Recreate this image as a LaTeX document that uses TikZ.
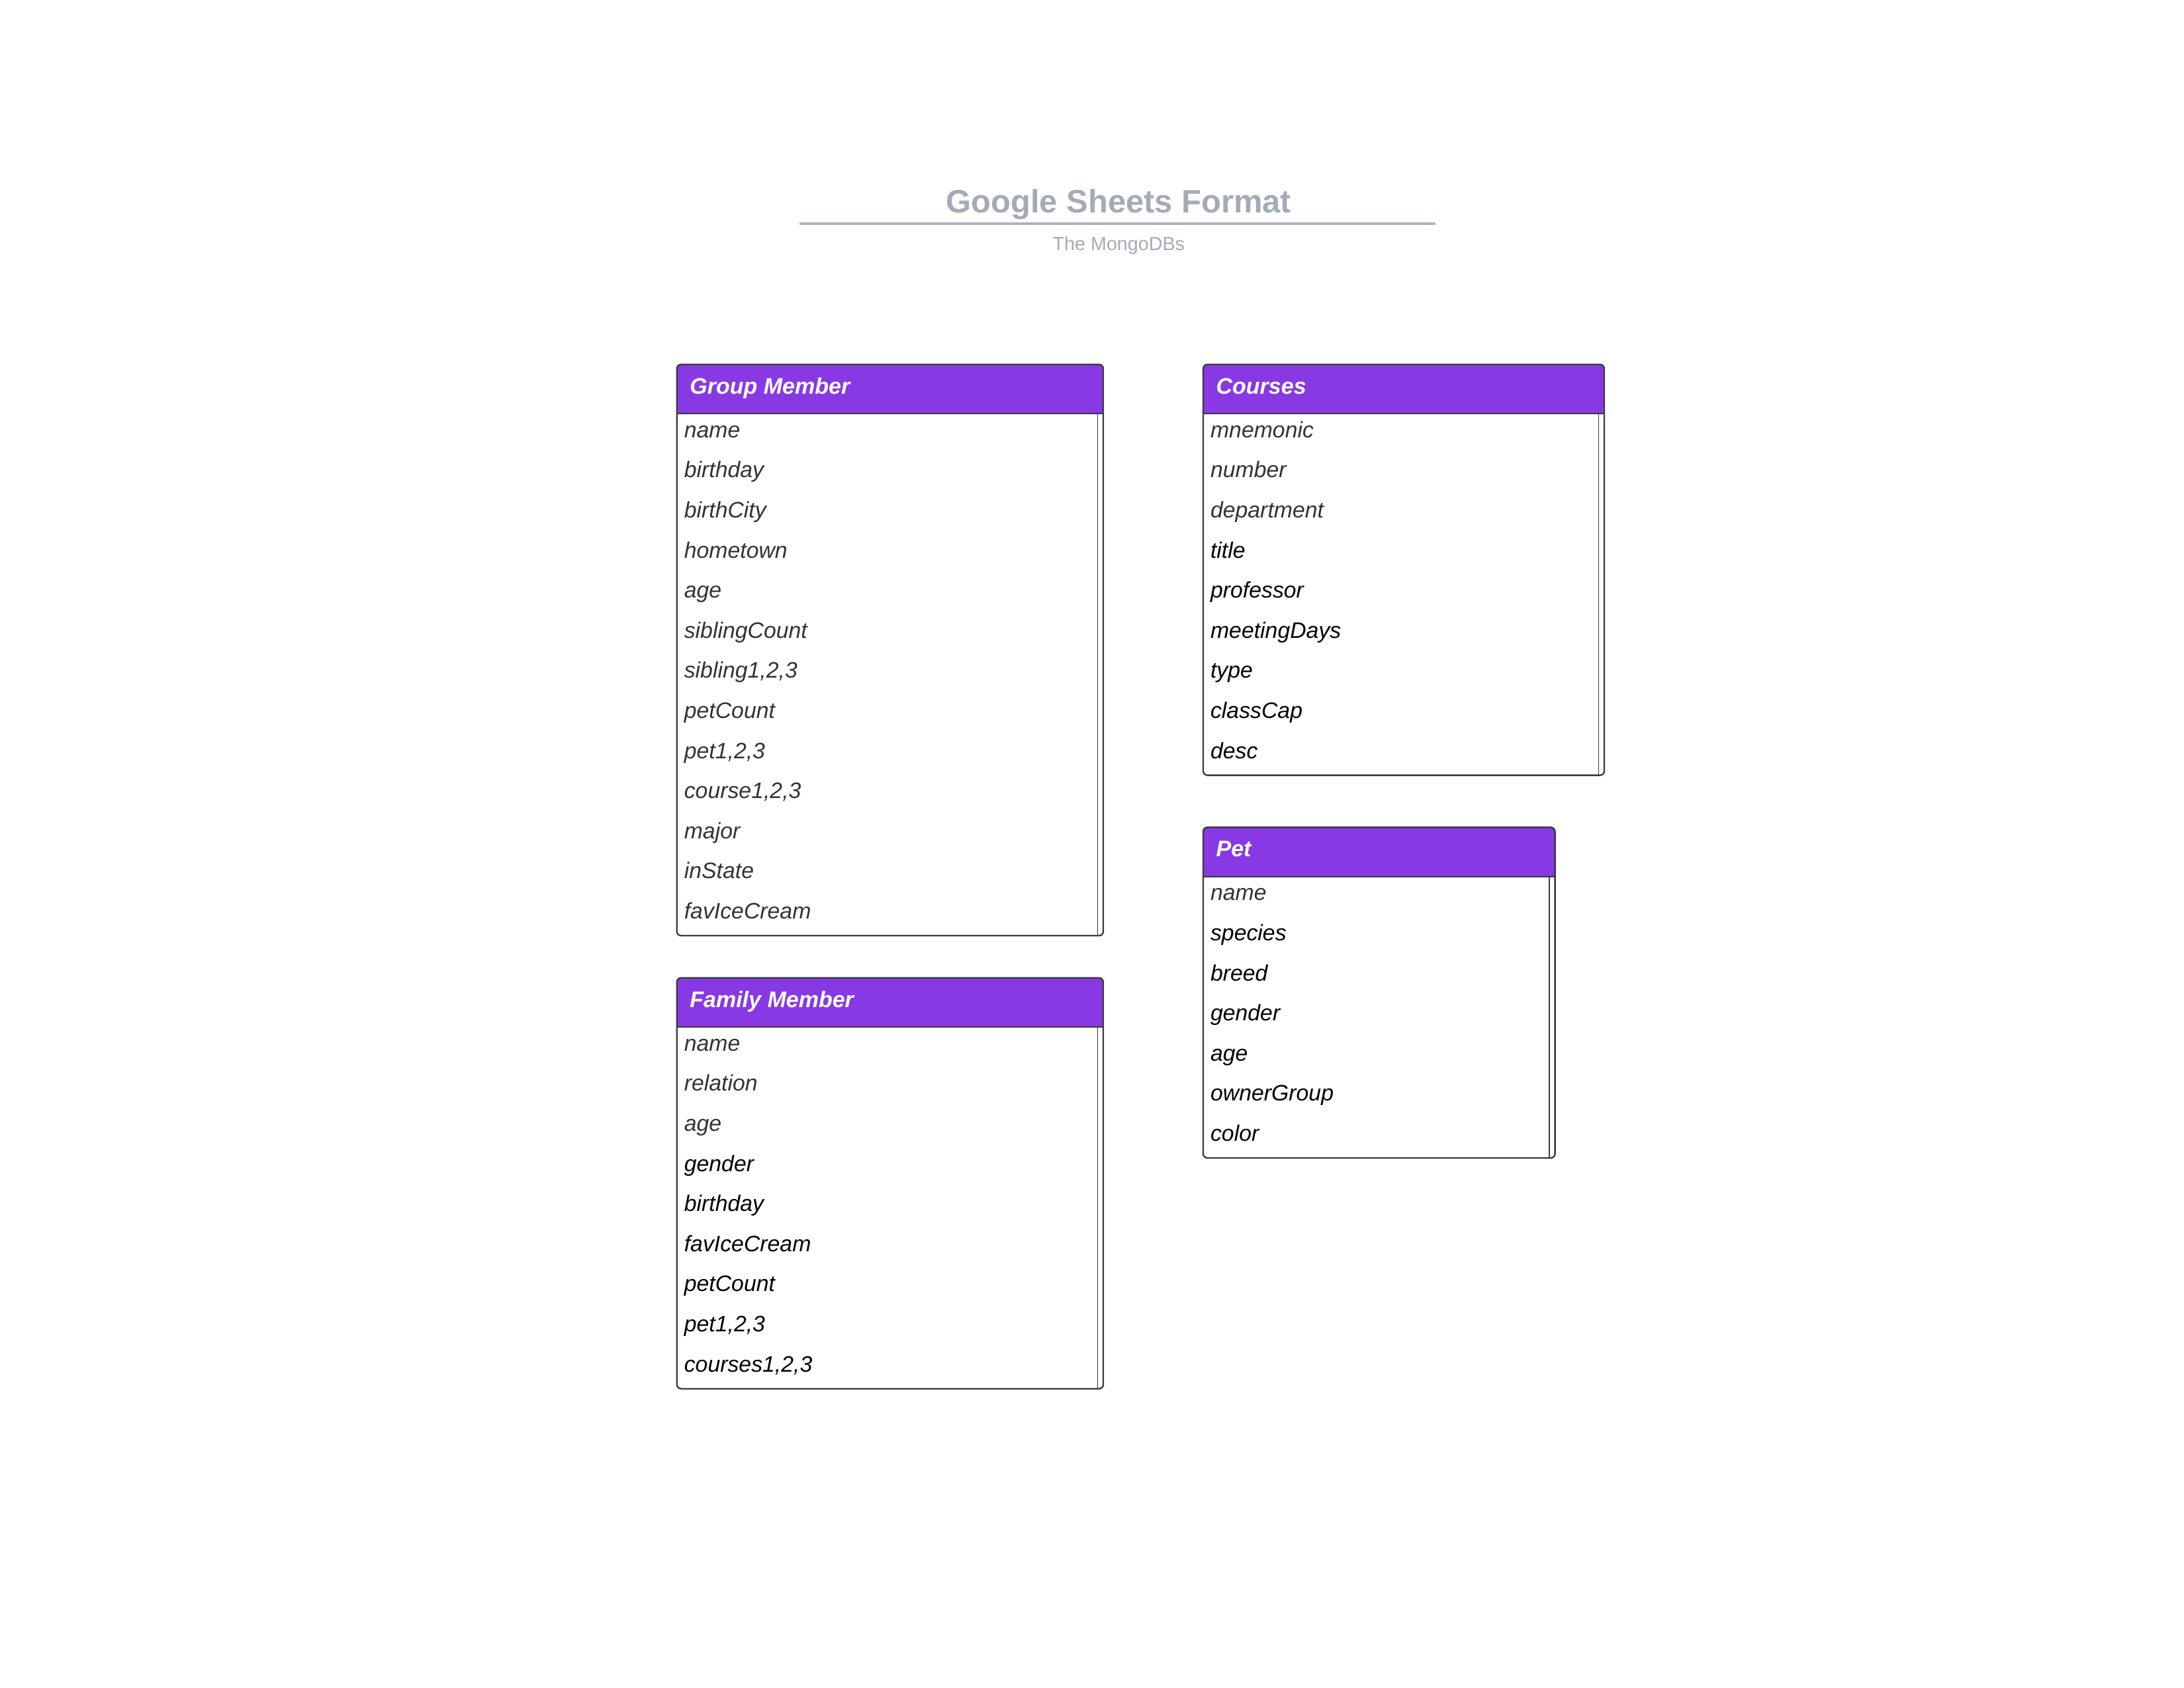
\documentclass[tikz,border=0pt]{standalone}
\usepackage{fontspec}
\setmainfont{Liberation Sans}
\definecolor{hdrpurple}{HTML}{8839E3}
\definecolor{edgegray}{HTML}{3A3A3A}
\definecolor{titlegray}{HTML}{A5ABB5}
\definecolor{linegray}{HTML}{ADB3C2}
\definecolor{itemgray}{HTML}{333333}
\definecolor{itemblack}{HTML}{000000}
\tikzset{
  edge/.style={draw=edgegray, line width=1.1pt},
  hdrfill/.style={fill=hdrpurple},
  hdrtext/.style={text=white, font=\fontsize{16}{19}\selectfont\bfseries\itshape, inner sep=0pt},
  item/.style={font=\fontsize{15.9}{18}\selectfont\itshape, inner sep=0pt, anchor=base west},
  titletext/.style={text=titlegray, font=\fontsize{23}{27}\selectfont\bfseries, inner sep=0pt, anchor=base},
  subtext/.style={text=titlegray, font=\fontsize{13.5}{16}\selectfont, inner sep=0pt, anchor=base},
}
\newcommand\erbox[7]{% id, x1, x2, top, bottom, title, items
  \fill[hdrfill, rounded corners=3pt] (#2,#4) rectangle (#3,#4+35);
  \fill[hdrfill] (#2,#4+10) rectangle (#3,#4+35);
  \draw[edge] (#2,#4+35) -- (#3,#4+35);
  \draw[edge, line width=0.6pt] (#3-4,#4+35) -- (#3-4,#5);
  \draw[edge, rounded corners=3pt] (#2,#4) rectangle (#3,#5);
  \node[hdrtext, anchor=base west] (#1) at (#2+9,#4+21) {#6};
  \foreach \t/\c [count=\i from 0] in {#7}
    \node[item, text=\c] (#1-\i) at (#2+5,#4+52+28.5*\i) {\t};
}
\begin{document}
\begin{tikzpicture}[x=1pt,y=-1pt]
\useasboundingbox (0,0) rectangle (1552,1199.3);
\fill[white] (0,0) rectangle (1552,1199.3);
% title
\node[titletext] (title) at (795,151) {Google Sheets Format};
\coordinate (ruleL) at (568,159);
\coordinate (ruleR) at (1020,159);
\draw[linegray, line width=2pt] (ruleL) -- (ruleR);
\node[subtext] (subtitle) at (795,178) {The MongoDBs};
% entities
\erbox{group}{481}{784}{259}{665}{Group Member}{name/itemgray, birthday/itemgray, birthCity/itemgray, hometown/itemgray, age/itemgray, siblingCount/itemgray, {sibling1,2,3}/itemgray, petCount/itemgray, {pet1,2,3}/itemgray, {course1,2,3}/itemgray, major/itemgray, inState/itemgray, favIceCream/itemgray}
\erbox{family}{481}{784}{695}{987}{Family Member}{name/itemgray, relation/itemgray, age/itemgray, gender/itemblack, birthday/itemblack, favIceCream/itemblack, petCount/itemblack, {pet1,2,3}/itemblack, {courses1,2,3}/itemblack}
\erbox{courses}{855}{1140}{259}{551}{Courses}{mnemonic/itemgray, number/itemgray, department/itemgray, title/itemblack, professor/itemblack, meetingDays/itemblack, type/itemblack, classCap/itemblack, desc/itemblack}
\erbox{pet}{855}{1105}{588}{823}{Pet}{name/itemgray, species/itemblack, breed/itemblack, gender/itemblack, age/itemblack, ownerGroup/itemblack, color/itemblack}
\end{tikzpicture}
\end{document}
